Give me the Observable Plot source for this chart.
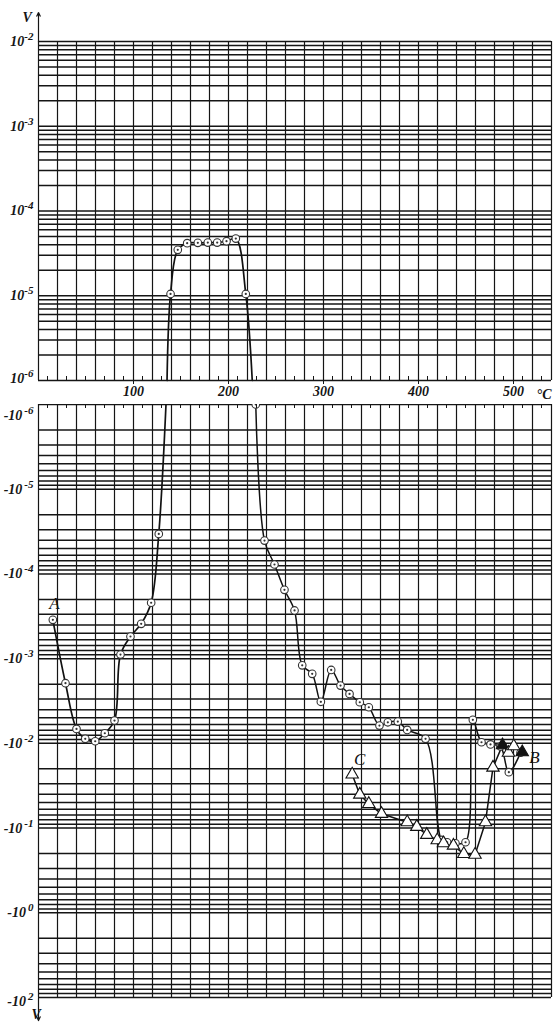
<!DOCTYPE html>
<html><head><meta charset="utf-8">
<script src="https://cdn.jsdelivr.net/npm/d3@7"></script>
<script src="https://cdn.jsdelivr.net/npm/@observablehq/plot@0.6"></script>
<style>
body{margin:0;background:#fff;}
#chart{width:555px;height:1024px;overflow:hidden;background:#fff;}
#chart svg{display:block;}
</style></head><body><div id="chart"></div>
<script>
// ---------- data ----------
const tempTicks = [100, 200, 300, 400, 500];
const gridT = d3.range(0, 541, 20);
const minorT = d3.range(10, 540, 20);

const posTicks = [1e-2, 1e-3, 1e-4, 1e-5, 1e-6];
const posTickLabels = ["10^-2", "10^-3", "10^-4", "10^-5", "10^-6"];
const negTicks = [1e-6, 1e-5, 1e-4, 1e-3, 1e-2, 1e-1, 1e0, 1e1];
const negTickLabels = ["-10^-6", "-10^-5", "-10^-4", "-10^-3", "-10^-2", "-10^-1", "-10^0", "-10^2"];

// positive branch (plateau), °C and V
const posT = [139.0, 146.6, 156.5, 167.7, 178.2, 188.1, 197.9, 207.7, 218.2];
const posV = [1.05e-5, 3.48e-5, 4.17e-5, 4.21e-5, 4.24e-5, 4.24e-5, 4.4e-5, 4.73e-5, 1.05e-5];
// where the curve leaves the positive panel (at 1e-6)
const posEdgeT = [135.3, 225.0];

// negative branch from A
const negAT = [15.1, 28.4, 40.0, 49.2, 59.7, 69.8, 80.0, 86.3, 96.8, 108.1, 118.6, 126.6];
const negAV = [-3.48e-4, -1.95e-3, -6.75e-3, -8.85e-3, -9.44e-3, -7.6e-3, -5.38e-3, -8.96e-4, -5.48e-4, -3.88e-4, -2.19e-4, -3.37e-5];
const negAEdgeT = 134.2;

// negative branch down to B (circles)
const negBT = [228.7, 237.9, 248.4, 258.9, 269.5, 277.6, 288.1, 297.2, 308.1, 317.9, 327.4, 338.2, 347.7, 358.9, 367.7, 378.2, 388.1, 407.4, 424.2, 430.2, 438.9, 449.5, 457.2, 466.3, 475.8, 486.3, 495.1, 507.4];
const negBV = [-1e-6, -4.04e-5, -7.74e-5, -1.54e-4, -2.70e-4, -1.20e-3, -1.51e-3, -3.23e-3, -1.36e-3, -2.08e-3, -2.61e-3, -3.27e-3, -3.75e-3, -6.17e-3, -5.64e-3, -5.53e-3, -6.94e-3, -8.85e-3, -0.138, -0.147, -0.151, -0.147, -5.28e-3, -9.7e-3, -1.03e-2, -1.09e-2, -2.19e-2, -1.29e-2];

// triangles, C -> B
const triT = [330.2, 338.2, 347.7, 361.1, 388.1, 398.2, 408.7, 419.7, 426.3, 436.8, 447.7, 459.5, 470.5, 478.4, 488.4, 494.7, 500.3, 509.2];
const triV = [-2.33e-2, -4.02e-2, -5.18e-2, -6.79e-2, -8.53e-2, -9.66e-2, -0.120, -0.139, -0.151, -0.161, -0.202, -0.206, -8.53e-2, -1.93e-2, -1.05e-2, -1.29e-2, -1.08e-2, -1.27e-2];
const triFilled = [14, 17];

const curveLabels = ["A", "C", "B"];
const curveLabelT = [16.8, 338, 522];
const curveLabelV = [-2.21e-4, -1.55e-2, -1.49e-2];

// ---------- build ----------
const font = "'Liberation Serif', 'DejaVu Serif', serif";
const ink = "#151515";
const decades = (a, b) => { const out = []; for (let k = a; k < b; k++) for (let m = 1; m <= 9; m++) out.push(m * 10 ** k); out.push(10 ** b); return out; };
const posGrid = decades(-6, -2);
const negGrid = decades(-6, 1);

const zip = (T, V) => T.map((t, i) => ({t, v: V[i], i}));
const posPts = zip(posT, posV);
const posLine = [{t: posEdgeT[0], v: 1e-6}, ...posPts, {t: posEdgeT[1], v: 1e-6}];
const aPts = zip(negAT, negAV);
const aLine = [...aPts, {t: negAEdgeT, v: -1e-6}];
const bPts = zip(negBT, negBV);
const triPts = zip(triT, triV);
const lblPts = curveLabels.map((s, i) => ({s, t: curveLabelT[i], v: curveLabelV[i]}));

const posMap = new Map(posTicks.map((d, i) => [d, posTickLabels[i]]));
const negMap = new Map(negTicks.map((d, i) => [d, negTickLabels[i]]));
const mag = d => Math.abs(d.v);

const baseStyle = {fontFamily: font, fontWeight: "bold", fontStyle: "italic", fontSize: "14px", background: "white", color: ink};

const topPlot = Plot.plot({
  width: 555, height: 404,
  marginTop: 41, marginBottom: 24, marginLeft: 38, marginRight: 4,
  style: baseStyle,
  x: {domain: [0, 540]},
  y: {type: "log", domain: [1e-6, 1e-2]},
  marks: [
    Plot.ruleY(posGrid, {stroke: ink, strokeWidth: 1.5}),
    Plot.ruleX(gridT, {stroke: ink, strokeWidth: 1.2}),
    Plot.axisX(tempTicks, {tickSize: 4, tickPadding: 2, label: null, fontSize: 14, stroke: ink, fill: ink}),
    Plot.axisY(posTicks, {tickSize: 0, tickPadding: 5, label: null, fontSize: 14, fill: ink, tickFormat: d => posMap.get(d)}),
    Plot.text(["°C"], {frameAnchor: "bottom-right", dy: 18, dx: 0, textAnchor: "end", fontSize: 14, fill: ink}),
    Plot.text(["V"], {frameAnchor: "top-left", dx: -16, dy: -29, fontSize: 14, fill: ink}),
    Plot.arrow([0], {x1: 0, x2: 0, y1: 1e-2, y2: 0.022, stroke: ink, strokeWidth: 1.2, headLength: 5, headAngle: 50}),
    Plot.line(posLine, {x: "t", y: "v", curve: "catmull-rom", stroke: "#111", strokeWidth: 1.7}),
    Plot.dot(posPts, {x: "t", y: "v", r: 3.8, fill: "white", stroke: "#333", strokeWidth: 1.1}),
    Plot.dot(posPts, {x: "t", y: "v", r: 1.1, fill: "#333"})
  ]
});

const botPlot = Plot.plot({
  width: 555, height: 620,
  marginTop: 0, marginBottom: 27, marginLeft: 38, marginRight: 4,
  style: baseStyle,
  x: {domain: [0, 540], axis: null},
  y: {type: "log", domain: [1e-6, 10], reverse: true},
  marks: [
    Plot.ruleY(negGrid, {stroke: ink, strokeWidth: 1.5}),
    Plot.ruleX(gridT, {stroke: ink, strokeWidth: 1.2}),
    Plot.axisY(negTicks, {tickSize: 0, tickPadding: 5, label: null, fontSize: 14, fill: ink, tickFormat: d => negMap.get(d)}),
    Plot.text(["V"], {frameAnchor: "bottom-left", dx: -7, dy: 21, fontSize: 14, fill: ink}),
    Plot.arrow([0], {x1: 0, x2: 0, y1: 10, y2: 18.7, stroke: ink, strokeWidth: 1.2, headLength: 5, headAngle: 50}),
    Plot.line(aLine, {x: "t", y: mag, curve: "catmull-rom", stroke: "#111", strokeWidth: 1.7}),
    Plot.line(bPts, {x: "t", y: mag, curve: "catmull-rom", stroke: "#111", strokeWidth: 1.5}),
    Plot.line(triPts, {x: "t", y: mag, curve: "linear", stroke: "#111", strokeWidth: 1.5}),
    Plot.dot([...aPts, ...bPts], {x: "t", y: mag, r: 3.8, fill: "white", stroke: "#333", strokeWidth: 1.1}),
    Plot.dot([...aPts, ...bPts], {x: "t", y: mag, r: 1.1, fill: "#333"}),
    Plot.dot(triPts, {x: "t", y: mag, symbol: "triangle", r: 4.6, fill: d => triFilled.includes(d.i) ? "#111" : "white", stroke: "#111", strokeWidth: 1.1}),
    Plot.text(lblPts, {x: "t", y: mag, text: "s", fontSize: 17, fontWeight: "normal", fontStyle: "italic", fill: "#111"})
  ]
});

// superscript exponents (real text)
function superscripts(svg, dx, shifts) {
  d3.select(svg).selectAll('g[aria-label="y-axis tick label"] text').each(function(_, i) {
    const t = d3.select(this);
    const [base, exp] = t.text().split("^");
    t.text(base);
    t.append("tspan").attr("dy", "-0.55em").attr("dx", dx).attr("font-size", "11px").text(exp);
    if (shifts[i]) t.attr("transform", ((t.attr("transform") || "") + ` translate(0,${shifts[i]})`).trim());
  });
}
superscripts(topPlot, 0, {4: -2});
superscripts(botPlot, 2, {0: 11, 7: 4});

// minor temperature ticks inside the frames
function minor(plot, y0, dir) {
  const x = plot.scale("x");
  const g = d3.select(plot).append("g").attr("stroke", ink).attr("stroke-width", 1);
  for (const t of minorT) g.append("line").attr("x1", x.apply(t)).attr("x2", x.apply(t)).attr("y1", y0).attr("y2", y0 + dir * 4);
}
minor(topPlot, 380, -1);
minor(botPlot, 0, 1);

document.getElementById("chart").append(topPlot, botPlot);
</script></body></html>
